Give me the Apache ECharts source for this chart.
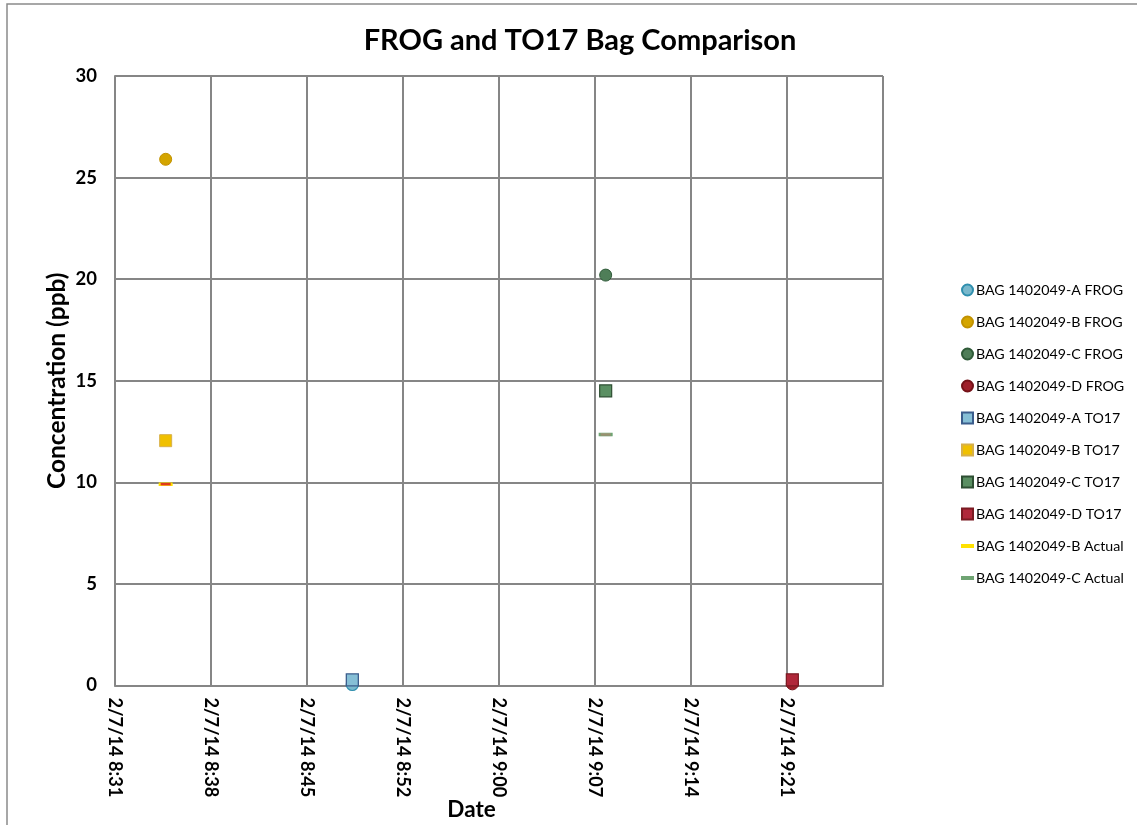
<!DOCTYPE html>
<html>
<head>
<meta charset="utf-8">
<script src="https://cdn.jsdelivr.net/npm/echarts@6/dist/echarts.min.js"></script>
<style>
html,body{margin:0;padding:0;background:#fff;}
#chart{width:1137px;height:825px;}
</style>
</head>
<body>
<div id="chart"></div>
<script>
// Time in minutes since midnight on 2/7/14
const seriesNames = [
  'BAG 1402049-A FROG','BAG 1402049-B FROG','BAG 1402049-C FROG','BAG 1402049-D FROG',
  'BAG 1402049-A TO17','BAG 1402049-B TO17','BAG 1402049-C TO17','BAG 1402049-D TO17',
  'BAG 1402049-B Actual','BAG 1402049-C Actual'
];
const timeA = 529; // 8:49
const timeB = 515; // 8:35
const timeC = 548; // 9:08
const timeD = 562; // 9:22
const frogA = [[timeA, 0.05]];
const frogB = [[timeB, 25.9]];
const frogC = [[timeC, 20.2]];
const frogD = [[timeD, 0.08]];
const to17A = [[timeA, 0.28]];
const to17B = [[timeB, 12.05]];
const to17C = [[timeC, 14.5]];
const to17D = [[timeD, 0.28]];
const actualB = [[timeB, 9.9]];
const actualC = [[timeC, 12.35]];
const xMin = 511.2, xMax = 568.8, xInterval = 7.2;
const yTicks = [0, 5, 10, 15, 20, 25, 30];

const chart = echarts.init(document.getElementById('chart'));
const FONT = "Lato, 'Open Sans', sans-serif";
const dash = 'path://M0,0h10v2.4h-10z';

function sc(name, data, symbol, size, fill, border, bw) {
  return {
    name, type: 'scatter', data, symbol, symbolSize: size,
    itemStyle: { color: fill, borderColor: border, borderWidth: bw, opacity: 1 },
    emphasis: { disabled: true }
  };
}

function fmtTime(v) {
  const m = Math.floor(v + 1e-6);
  const h = Math.floor(m / 60);
  const mm = m % 60;
  return '2/7/14 ' + h + ':' + (mm < 10 ? '0' : '') + mm;
}

const legendIcons = ['circle','circle','circle','circle','rect','rect','rect','rect',
  'path://M0,0h10v2h-10z','path://M0,0h10v2h-10z'];

const option = {
  animation: false,
  backgroundColor: '#ffffff',
  title: {
    text: 'FROG and TO17 Bag Comparison',
    left: 575, top: 21, textAlign: 'center',
    textStyle: { fontFamily: FONT, fontSize: 29, fontWeight: 'bold', color: '#000' }
  },
  graphic: [{
    type: 'rect', shape: { x: 7, y: 4, width: 1160, height: 860 },
    style: { fill: 'none', stroke: '#8a8a8a', lineWidth: 1.5 }, silent: true, z: 0
  }],
  legend: {
    orient: 'vertical', left: 956, top: 277, itemGap: 16,
    itemWidth: 11, itemHeight: 11,
    textStyle: { fontFamily: FONT, fontSize: 14.2, lineHeight: 16, color: '#000', padding: [0, 0, 0, -2] },
    data: seriesNames.map((n, i) => ({ name: n, icon: legendIcons[i] }))
  },
  grid: { left: 115, top: 76, right: 254, bottom: 139.5, containLabel: false, outerBoundsMode: 'none' },
  xAxis: {
    type: 'value', min: xMin, max: xMax, interval: xInterval,
    name: 'Date', nameLocation: 'middle', nameGap: 113, nameMoveOverlap: false,
    nameTextStyle: { fontFamily: FONT, fontSize: 22.5, fontWeight: 'bold', color: '#000', padding: [0, 55, 0, 0] },
    axisLine: { show: true, lineStyle: { color: '#868686', width: 2 } },
    axisTick: { show: false },
    splitLine: { show: true, lineStyle: { color: '#868686', width: 2 } },
    axisLabel: {
      rotate: -90, margin: 12, showMaxLabel: false,
      fontFamily: FONT, fontSize: 18.2, fontWeight: 'bold', color: '#000',
      formatter: fmtTime
    }
  },
  yAxis: {
    type: 'value', min: yTicks[0], max: yTicks[yTicks.length - 1], interval: 5,
    name: 'Concentration (ppb)', nameLocation: 'middle', nameGap: 45, nameMoveOverlap: false,
    nameTextStyle: { fontFamily: FONT, fontSize: 24.5, fontWeight: 'bold', color: '#000' },
    axisLine: { show: true, lineStyle: { color: '#868686', width: 2 } },
    axisTick: { show: false },
    splitLine: { show: true, lineStyle: { color: '#868686', width: 2 } },
    axisLabel: { margin: 18, fontFamily: FONT, fontSize: 18.5, fontWeight: 'bold', color: '#000' }
  },
  series: [
    sc(seriesNames[0], frogA, 'circle', 12, '#79b8cc', '#2f8fae', 1.2),
    sc(seriesNames[1], frogB, 'circle', 12, '#d4a500', '#c29200', 1),
    sc(seriesNames[2], frogC, 'circle', 12, '#4f7e58', '#2f5a38', 1),
    sc(seriesNames[3], frogD, 'circle', 12, '#9e1f2a', '#741218', 1),
    sc(seriesNames[4], to17A, 'rect', 12, '#86bfd6', '#3b5d8c', 1.3),
    sc(seriesNames[5], to17B, 'rect', 12, '#f0c000', '#d7b04a', 1),
    sc(seriesNames[6], to17C, 'rect', 12, '#5a8f62', '#2e4f33', 1.2),
    sc(seriesNames[7], to17D, 'rect', 12, '#b0283a', '#7a1a22', 1.2),
    sc(seriesNames[8], actualB, dash, [12, 3], '#e03a1a', '#ffe100', 1),
    sc(seriesNames[9], actualC, dash, [12, 3], '#9a9070', '#6fa473', 1)
  ]
};
chart.setOption(option);
</script>
</body>
</html>
